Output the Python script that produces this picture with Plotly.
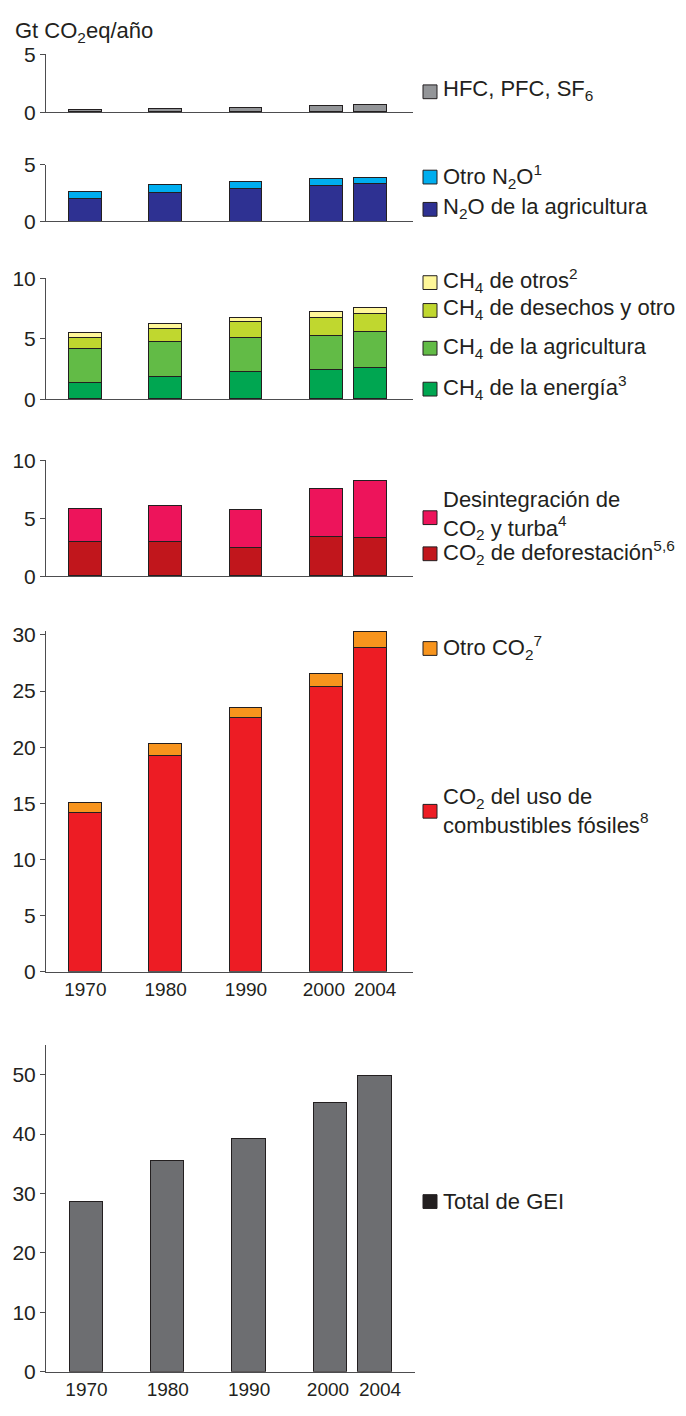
import plotly.graph_objects as go

# --- data (Gt CO2eq / año) ---
years = ['1970', '1980', '1990', '2000', '2004']

hfc_pfc_sf6 = [0.15, 0.23, 0.32, 0.50, 0.55]

n2o_agri = [2.03, 2.51, 2.92, 3.15, 3.30]
n2o_other = [0.60, 0.76, 0.58, 0.58, 0.57]

ch4_energy = [1.33, 1.82, 2.23, 2.39, 2.55]
ch4_agri = [2.82, 2.90, 2.84, 2.85, 2.95]
ch4_waste = [0.89, 1.08, 1.30, 1.48, 1.52]
ch4_other = [0.41, 0.41, 0.33, 0.49, 0.49]

co2_defor = [2.94, 2.97, 2.40, 3.36, 3.31]
co2_decay = [2.88, 3.05, 3.25, 4.18, 4.86]

co2_fossil = [14.17, 19.25, 22.65, 25.42, 28.87]
co2_other = [0.93, 1.12, 0.87, 1.17, 1.40]

total_ghg = [28.6, 35.5, 39.2, 45.2, 49.8]

# --- layout constants ---
PAGE_MARGIN = 8            # browser default body margin
W, H = 686 - 2 * PAGE_MARGIN, 1416 - 2 * PAGE_MARGIN
FONT = 'Liberation Sans, Arial, sans-serif'
TXT = '#231f20'
AXIS = '#4d4d4f'
EDGE = '#231f20'
BAR_W = 0.41
SLOTS = [0, 1, 2, 3, 3.55]        # horizontal slot of each year (2004 squeezed next to 2000)
LABEL_SLOTS = [0, 1, 2, 2.97, 3.61]  # year labels nudged apart so 2000/2004 don't touch


def px_x(x):
    # page pixel -> paper fraction
    return (x - PAGE_MARGIN) / W


def px_y(y):
    return 1 - (y - PAGE_MARGIN) / H


# panel: (top px, bottom px, y max, dtick) -- top px is where y max sits
panels = [
    (43, 101.7, 5, 5),
    (155, 212.7, 5, 5),
    (270.7, 393.7, 10, 5),
    (455.7, 573.7, 10, 5),
    (628.7, 975.7, 30.4, 5),   # a little headroom so the 2004 bar pokes above 30
    (1050, 1382.3, 55, 10),
]

# stacks per panel, bottom to top
stacks = [
    [(hfc_pfc_sf6, '#939598')],
    [(n2o_agri, '#2e3192'), (n2o_other, '#00aeef')],
    [(ch4_energy, '#00a651'), (ch4_agri, '#62bb46'), (ch4_waste, '#c0d72f'), (ch4_other, '#fff799')],
    [(co2_defor, '#c1161c'), (co2_decay, '#ed145b')],
    [(co2_fossil, '#ed1c24'), (co2_other, '#f7941d')],
    [(total_ghg, '#6d6e71')],
]

fig = go.Figure()
layout_axes = {}

for i, ((top, bot, ymax, dtick), stack) in enumerate(zip(panels, stacks), start=1):
    sfx = '' if i == 1 else str(i)
    for values, color in stack:
        fig.add_trace(go.Bar(
            x=SLOTS, y=values, width=BAR_W,
            xaxis='x' + sfx, yaxis='y' + sfx,
            marker=dict(color=color, line=dict(color=EDGE, width=1)),
            showlegend=False, hoverinfo='y',
        ))
    last = i == len(panels)
    layout_axes['xaxis' + sfx] = dict(
        domain=[px_x(46), px_x(415 if last else 413)],
        range=[-0.498, 4.04] if last else [-0.49, 4.08],
        anchor='y' + sfx,
        showline=True, linecolor=AXIS, linewidth=1,
        showgrid=False, zeroline=False,
        tickmode='array', tickvals=LABEL_SLOTS, ticktext=years,
        showticklabels=i >= 5, ticks='', tickangle=0,
        tickfont=dict(family=FONT, size=19, color=TXT),
        fixedrange=True,
    )
    layout_axes['yaxis' + sfx] = dict(
        domain=[px_y(bot), px_y(top)],
        range=[0, ymax], anchor='x' + sfx,
        showline=True, linecolor=AXIS, linewidth=1,
        showgrid=False, zeroline=False,
        ticks='outside', ticklen=5, tickcolor=AXIS,
        tick0=0, dtick=dtick,
        tickfont=dict(family=FONT, size=21, color=TXT),
        fixedrange=True,
    )

# --- legend entries: (text, text centre y px, swatch centre y px, colour) ---
legend_items = [
    ('HFC, PFC, SF<sub>6</sub>', 79, 81, '#939598'),
    ('Otro N<sub>2</sub>O<sup>1</sup>', 167, 167.7, '#00aeef'),
    ('N<sub>2</sub>O de la agricultura', 199, 200.5, '#2e3192'),
    ('CH<sub>4</sub> de otros<sup>2</sup>', 273, 275, '#fff799'),
    ('CH<sub>4</sub> de desechos y otro', 302, 303.3, '#c0d72f'),
    ('CH<sub>4</sub> de la agricultura', 341, 341.7, '#62bb46'),
    ('CH<sub>4</sub> de la energía<sup>3</sup>', 382, 383.3, '#00a651'),
    ('Desintegración de<br>CO<sub>2</sub> y turba<sup>4</sup>', 511, 514, '#ed145b'),
    ('CO<sub>2</sub> de deforestación<sup>5,6</sup>', 549, 550.7, '#c1161c'),
    ('Otro CO<sub>2</sub><sup>7</sup>', 646, 647, '#f7941d'),
    ('CO<sub>2</sub> del uso de<br>combustibles fósiles<sup>8</sup>', 812, 812.5, '#ed1c24'),
    ('Total de GEI', 1209, 1209.3, '#231f20'),
]

annotations = [dict(
    text='Gt CO<sub>2</sub>eq/año', x=px_x(13), y=px_y(20),
    xref='paper', yref='paper', xanchor='left', yanchor='middle',
    showarrow=False, font=dict(family=FONT, size=22, color=TXT),
)]
shapes = []
SW = 14
for text, ty, sy, color in legend_items:
    shapes.append(dict(
        type='rect', xref='paper', yref='paper',
        x0=px_x(423), x1=px_x(423 + SW),
        y0=px_y(sy + SW / 2), y1=px_y(sy - SW / 2),
        fillcolor=color, line=dict(color=EDGE, width=1),
    ))
    annotations.append(dict(
        text=text, x=px_x(441), y=px_y(ty),
        xref='paper', yref='paper', xanchor='left', yanchor='middle',
        align='left', showarrow=False,
        font=dict(family=FONT, size=22, color=TXT),
    ))

fig.update_layout(
    width=W, height=H,
    margin=dict(l=0, r=0, t=0, b=0),
    paper_bgcolor='white', plot_bgcolor='white',
    barmode='stack', bargap=0,
    showlegend=False,
    annotations=annotations,
    shapes=shapes,
    font=dict(family=FONT, color=TXT),
    **layout_axes,
)

fig.write_html('out.html')
